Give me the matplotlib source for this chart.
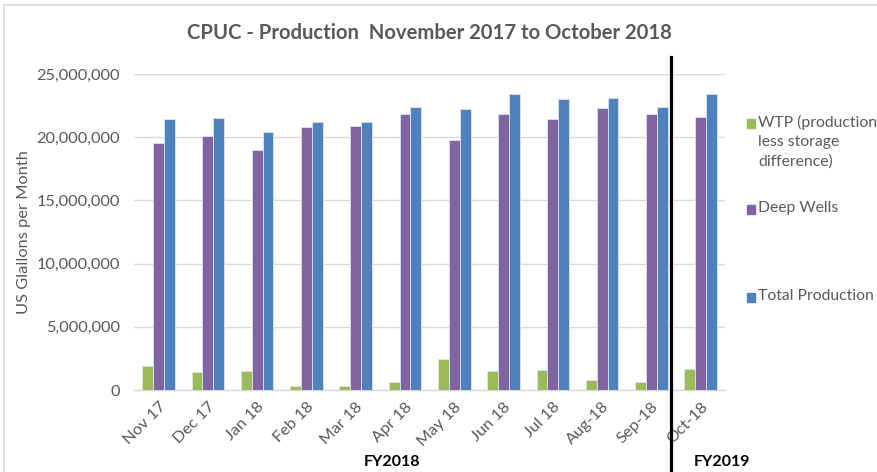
import matplotlib
matplotlib.use("Agg")
import matplotlib.pyplot as plt
import numpy as np
from matplotlib.lines import Line2D
from matplotlib.patches import Rectangle
from matplotlib.ticker import FuncFormatter
import matplotlib.transforms as mtransforms

plt.rcParams['font.family'] = ['Lato', 'DejaVu Sans']

months = ["Nov 17", "Dec 17", "Jan 18", "Feb 18", "Mar 18", "Apr 18", "May 18",
          "Jun 18", "Jul 18", "Aug-18", "Sep-18", "Oct-18"]
wtp = [1900000, 1400000, 1500000, 340000, 340000, 630000, 2450000,
       1500000, 1610000, 820000, 630000, 1660000]
deep_wells = [19520000, 20100000, 18960000, 20780000, 20860000, 21840000, 19800000,
              21840000, 21440000, 22310000, 21840000, 21630000]
total = [21440000, 21550000, 20410000, 21170000, 21170000, 22420000, 22200000,
         23390000, 23000000, 23070000, 22390000, 23390000]
series_names = ["WTP (production\nless storage\ndifference)", "Deep Wells", "Total Production"]
colors = ["#9BBB59", "#8064A2", "#4F81BD"]
gray = "#595959"

W, H = 878, 472
fig = plt.figure(figsize=(W / 100, H / 100), dpi=100)
ax = fig.add_axes([134 / W, 1 - 390 / H, (725.3 - 134) / W, (390 - 74) / H])

x = np.arange(len(months))
w = 0.22
for i, (vals, c) in enumerate(zip([wtp, deep_wells, total], colors)):
    ax.bar(x + (i - 1) * w, vals, width=w, color=c, edgecolor="#DCE3F0", linewidth=0.6, zorder=3)

ax.set_xlim(-0.5, len(months) - 0.5)
ax.set_ylim(0, 25000000)
ax.set_yticks(np.arange(0, 25000001, 5000000))
ax.yaxis.set_major_formatter(FuncFormatter(lambda v, p: f"{int(v):,}"))
ax.grid(axis="y", color="#D9D9D9", linewidth=1.0, zorder=0)
for s in ["top", "right", "left"]:
    ax.spines[s].set_visible(False)
ax.spines["bottom"].set_color("#D9D9D9")
ax.spines["bottom"].set_linewidth(1.0)
ax.tick_params(axis="both", length=0, colors=gray, labelsize=11.8)
ax.tick_params(axis="y", pad=10)
ax.set_xticks(x)
ax.set_xticklabels(months, rotation=45, ha="right", va="top", rotation_mode="anchor")
ax.tick_params(axis="x", pad=7)
ax.set_ylabel("US Glallons per Month", color=gray, fontsize=11.8)
ax.yaxis.set_label_coords((31 - 134) / 591.3, 0.5)

ax.set_title("CPUC - Production  November 2017 to October 2018", color=gray,
             fontsize=14.6, fontweight="bold", pad=25)

# divider line between fiscal years
trans = mtransforms.blended_transform_factory(ax.transData, ax.transAxes)
line = Line2D([10.40, 10.40], [(390 - 472) / 316, (390 - 57) / 316], transform=trans,
              color="black", linewidth=2.3, clip_on=False, zorder=5)
ax.add_line(line)
ax.text(4.74, (390 - 462) / 316, "FY2018", transform=trans, ha="center", va="center",
        fontsize=11.5, fontweight="bold", color="black")
ax.text(11.43, (390 - 462) / 316, "FY2019", transform=trans, ha="center", va="center",
        fontsize=11.5, fontweight="bold", color="black")

# legend (manual, Excel-style)
leg_y = [119, 205, 293]
for name, c, y in zip(series_names, colors, leg_y):
    fig.patches.append(Rectangle((747 / W, 1 - (y + 8.5) / H), 8.5 / W, 8.5 / H,
                                 transform=fig.transFigure, color=c))
    fig.text(758 / W, 1 - (y - 4) / H, name, ha="left", va="top", color=gray,
             fontsize=11.3, linespacing=1.48)

# chart border
fig.add_artist(Line2D([4 / W, 1], [1 - 5 / H, 1 - 5 / H], transform=fig.transFigure,
                      color="#D9D9D9", linewidth=1.2))
fig.add_artist(Line2D([4 / W, 4 / W], [0, 1 - 5 / H], transform=fig.transFigure,
                      color="#D9D9D9", linewidth=1.2))

fig.savefig("out.png", dpi=100)
